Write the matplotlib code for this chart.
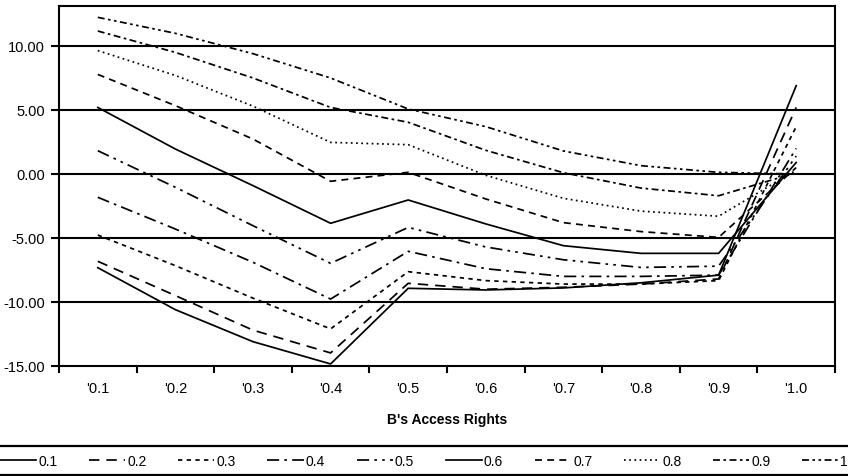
import matplotlib
matplotlib.use("Agg")
import matplotlib.pyplot as plt
from matplotlib.lines import Line2D
import numpy as np

plt.rcParams['font.family'] = ['Liberation Sans', 'DejaVu Sans']

categories = ["'0.1", "'0.2", "'0.3", "'0.4", "'0.5", "'0.6", "'0.7", "'0.8", "'0.9", "'1.0"]
series_names = ["0.1", "0.2", "0.3", "0.4", "0.5", "0.6", "0.7", "0.8", "0.9", "1"]

s01 = [-7.32, -10.6, -13.1, -14.84, -8.93, -9.06, -8.9, -8.5, -7.9, 6.9]
s02 = [-6.82, -9.5, -12.2, -13.98, -8.54, -9.0, -8.85, -8.6, -8.2, 5.2]
s03 = [-4.77, -7.16, -9.7, -12.1, -7.63, -8.33, -8.6, -8.6, -8.33, 3.7]
s04 = [-1.82, -4.3, -6.9, -9.77, -6.04, -7.4, -8.0, -8.0, -7.9, 2.0]
s05 = [1.82, -1.04, -4.04, -6.98, -4.17, -5.7, -6.7, -7.3, -7.2, 1.4]
s06 = [5.2, 1.95, -0.91, -3.85, -2.03, -3.9, -5.6, -6.2, -6.2, 0.9]
s07 = [7.78, 5.34, 2.73, -0.57, 0.13, -1.95, -3.8, -4.5, -4.95, 0.5]
s08 = [9.64, 7.7, 5.3, 2.47, 2.29, -0.1, -1.9, -2.9, -3.3, 0.3]
s09 = [11.17, 9.5, 7.5, 5.2, 4.04, 1.85, 0.1, -1.1, -1.7, 0.1]
s10 = [12.24, 10.99, 9.4, 7.5, 5.08, 3.7, 1.8, 0.65, 0.13, 0.0]

series_values = [s01, s02, s03, s04, s05, s06, s07, s08, s09, s10]

styles = [
    '-',
    (0, (6, 4)),
    (0, (2.5, 2.5)),
    (0, (7, 3, 1.5, 3)),
    (0, (7, 3, 1.5, 3, 1.5, 3)),
    '-',
    (0, (4, 3)),
    (0, (1, 2)),
    (0, (4, 2, 1.5, 2)),
    (0, (4, 2, 1.5, 2, 1.5, 2)),
]

W, H = 848, 477
fig = plt.figure(figsize=(W / 100, H / 100), dpi=100)
left, right, top, bottom = 59, 835, 7, 367
ax = fig.add_axes([left / W, 1 - bottom / H, (right - left) / W, (bottom - top) / H])

x = np.arange(len(categories))
handles = []
for name, vals, ls in zip(series_names, series_values, styles):
    h, = ax.plot(x, vals, color='black', linestyle=ls, linewidth=1.25, label=name)
    handles.append(h)

ax.set_xlim(-0.5, len(categories) - 0.5)
ax.set_ylim(-15, 13.125)

yt = np.arange(-15, 11, 5)
ax.set_yticks(yt)
ax.set_yticklabels([f"{v:.2f}" for v in yt], fontsize=10.5)
for v in yt[1:]:
    ax.axhline(v, color='black', linewidth=1.5, zorder=0.5)

ax.set_xticks(x)
ax.set_xticklabels(categories, fontsize=10.5)
ax.set_xticks(np.arange(-0.5, len(categories), 1.0), minor=True)
ax.tick_params(axis='x', which='major', length=0, pad=11)
ax.tick_params(axis='x', which='minor', length=5, width=1.5, direction='out')
ax.tick_params(axis='y', which='major', length=6, width=1.5, direction='out', pad=4)

for sp in ax.spines.values():
    sp.set_color('black')
    sp.set_linewidth(1.5)

ax.set_xlabel("B's Access Rights", fontsize=10, fontweight='bold', labelpad=12)

leg = fig.legend(handles=handles, labels=series_names, loc='center',
                 bbox_to_anchor=(0.0, 1 - 462 / H - 0.02, 1.0, 0.04), mode='expand',
                 ncol=10, frameon=False, fontsize=10, handlelength=2.6,
                 handletextpad=0.15, columnspacing=0.8, borderaxespad=0, borderpad=0)

fig.add_artist(Line2D([0, 1], [1 - 447 / H, 1 - 447 / H], transform=fig.transFigure,
                      color='black', linewidth=1.6))
fig.add_artist(Line2D([0, 1], [1 - 476 / H, 1 - 476 / H], transform=fig.transFigure,
                      color='black', linewidth=1.6))

fig.savefig("out.png", dpi=100)
